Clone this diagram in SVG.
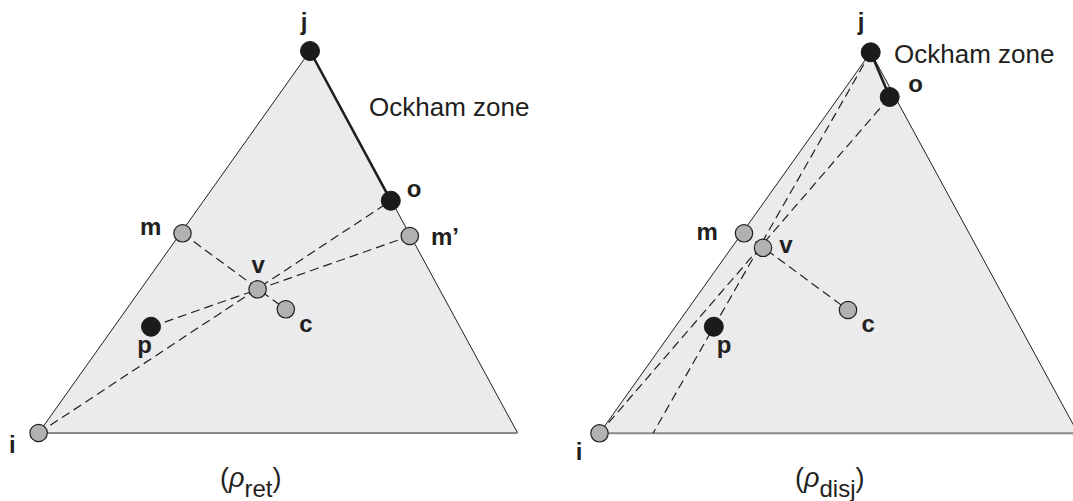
<svg xmlns="http://www.w3.org/2000/svg" width="1073" height="501" viewBox="0 0 1073 501">
<style>
.tri{fill:#ebebed;stroke:none}
.edge{stroke:#231f20;stroke-width:1;fill:none}
.base{stroke:#8a8a8c;stroke-width:2;fill:none}
.zone{stroke:#231f20;stroke-width:2.6;fill:none;stroke-linecap:round}
.dash{stroke:#231f20;stroke-width:1.2;fill:none;stroke-dasharray:9 5}
.g{fill:#b1b1b4;stroke:#231f20;stroke-width:1.2}
.b{fill:#1c1a1b;stroke:#1c1a1b;stroke-width:1}
.lb{font-family:"Liberation Sans",Arial,sans-serif;font-weight:bold;font-size:24px;fill:#231f20}
.oz{font-family:"Liberation Sans",Arial,sans-serif;font-size:26px;fill:#231f20}
.cap{font-family:"Liberation Sans",Arial,sans-serif;font-size:27px;fill:#231f20}
</style>
<g id="panel-ret">
<g id="triangle-ret">
<polygon class="tri" points="38.6,433 310,51 517.6,433"/>
<line class="edge" x1="38.6" y1="433" x2="310" y2="51"/>
<line class="edge" x1="310" y1="51" x2="517.6" y2="433"/>
<line class="base" x1="38.6" y1="433" x2="517.6" y2="433"/>
</g>
<g id="connectors-ret">
<line class="zone" x1="310" y1="51" x2="390.8" y2="200.7"/>
<line class="dash" x1="182.5" y1="233.3" x2="285.8" y2="309.3"/>
<line class="dash" x1="38.6" y1="433" x2="390.8" y2="200.7"/>
<line class="dash" x1="151.5" y1="326.7" x2="409.8" y2="236"/>
</g>
<g id="node-j-ret"><circle class="b" cx="310" cy="51" r="9.5"/><text class="lb" x="304" y="29.5" text-anchor="middle">j</text></g>
<g id="node-o-ret"><circle class="b" cx="390.8" cy="200.7" r="9.5"/><text class="lb" x="414" y="197" text-anchor="middle">o</text></g>
<g id="node-m-ret"><circle class="g" cx="182.5" cy="233.3" r="8.7"/><text class="lb" x="140" y="235">m</text></g>
<g id="node-m2-ret"><circle class="g" cx="409.8" cy="236" r="8.7"/><text class="lb" x="431" y="245">m’</text></g>
<g id="node-v-ret"><circle class="g" cx="257.6" cy="289.3" r="8.7"/><text class="lb" x="258.3" y="272.5" text-anchor="middle">v</text></g>
<g id="node-c-ret"><circle class="g" cx="285.8" cy="309.3" r="8.7"/><text class="lb" x="306" y="331.5" text-anchor="middle">c</text></g>
<g id="node-p-ret"><circle class="b" cx="151" cy="326.7" r="9.5"/><text class="lb" x="144.6" y="353" text-anchor="middle">p</text></g>
<g id="node-i-ret"><circle class="g" cx="38.6" cy="433" r="8.7"/><text class="lb" x="12.4" y="453" text-anchor="middle">i</text></g>
<text class="oz" x="369" y="116">Ockham zone</text>
<text class="cap" x="220" y="487">(<tspan font-style="italic">ρ</tspan><tspan font-size="24" dy="10">ret</tspan><tspan dy="-10">)</tspan></text>
</g>
<g id="panel-disj">
<g id="triangle-disj">
<polygon class="tri" points="599.5,433.3 870.7,52.3 1078,433.3"/>
<line class="edge" x1="599.5" y1="433.3" x2="870.7" y2="52.3"/>
<line class="edge" x1="870.7" y1="52.3" x2="1078" y2="433.3"/>
<line class="base" x1="599.5" y1="433.3" x2="1078" y2="433.3"/>
</g>
<g id="connectors-disj">
<line class="zone" x1="870.7" y1="52.3" x2="889.7" y2="97"/>
<line class="dash" x1="744" y1="233.3" x2="848" y2="310"/>
<line class="dash" x1="599.5" y1="433.3" x2="889.7" y2="97"/>
<line class="dash" x1="870.7" y1="52.3" x2="653" y2="433.3"/>
</g>
<g id="node-j-disj"><circle class="b" cx="870.7" cy="52.3" r="9.5"/><text class="lb" x="861" y="30" text-anchor="middle">j</text></g>
<g id="node-o-disj"><circle class="b" cx="889.7" cy="97" r="9.5"/><text class="lb" x="915.5" y="92" text-anchor="middle">o</text></g>
<g id="node-m-disj"><circle class="g" cx="744" cy="233.3" r="8.7"/><text class="lb" x="696.5" y="239.5">m</text></g>
<g id="node-v-disj"><circle class="g" cx="763" cy="247.8" r="8.7"/><text class="lb" x="786" y="252.5" text-anchor="middle">v</text></g>
<g id="node-c-disj"><circle class="g" cx="848" cy="310" r="8.7"/><text class="lb" x="868.3" y="331.5" text-anchor="middle">c</text></g>
<g id="node-p-disj"><circle class="b" cx="713.8" cy="326.7" r="9.5"/><text class="lb" x="724" y="353" text-anchor="middle">p</text></g>
<g id="node-i-disj"><circle class="g" cx="599.5" cy="433.3" r="8.7"/><text class="lb" x="579" y="460" text-anchor="middle">i</text></g>
<text class="oz" x="894" y="63">Ockham zone</text>
<text class="cap" x="795" y="487">(<tspan font-style="italic">ρ</tspan><tspan font-size="24" dy="10">disj</tspan><tspan dy="-10">)</tspan></text>
</g>
</svg>
